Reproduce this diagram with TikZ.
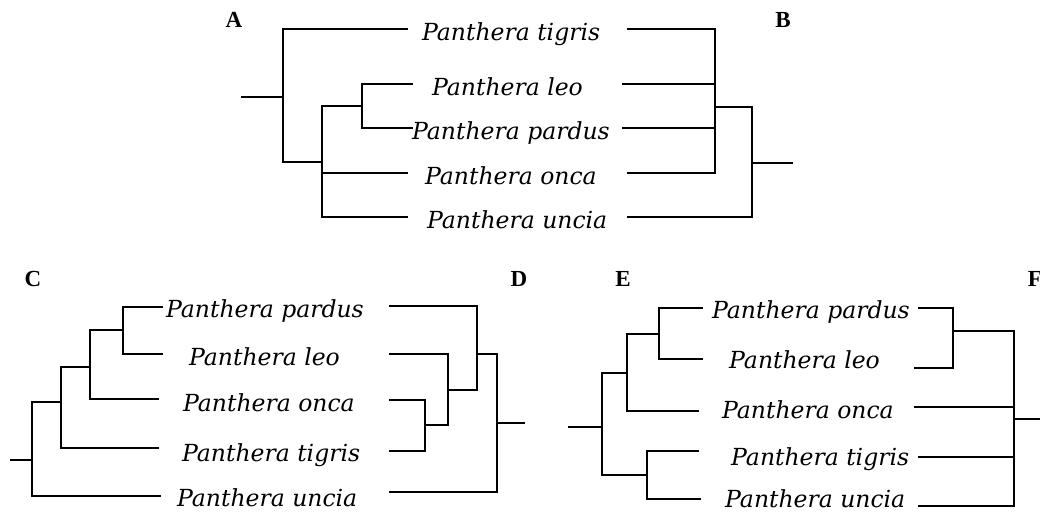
\documentclass[tikz,border=0pt]{standalone}
\usepackage{fontspec}
\setmainfont{DejaVu Serif}
\newfontfamily\lblfont{Liberation Serif}
\begin{document}
\begin{tikzpicture}[x=1pt,y=-1pt,
  br/.style={line width=2.2pt, line cap=rect},
  taxon/.style={anchor=base west, inner sep=0pt, font=\fontsize{23.5}{24}\selectfont\itshape},
  panel/.style={anchor=base, inner sep=0pt, font=\fontsize{23}{23}\selectfont\lblfont\bfseries}]
\useasboundingbox (0,0) rectangle (1040,511);
\clip (0,0) rectangle (1040,511);
% ---------- panel labels
\node[panel] (LA) at (234,28) {A};
\node[panel] (LB) at (783,28) {B};
\node[panel] (LC) at (33,286) {C};
\node[panel] (LD) at (519,286) {D};
\node[panel] (LE) at (623,286) {E};
\node[panel] (LF) at (1035,286) {F};
% ---------- texts (top)
\node[taxon] (tA1) at (422,41) {Panthera tigris};
\node[taxon] (tA2) at (432,95) {Panthera leo};
\node[taxon] (tA3) at (412,139) {Panthera pardus};
\node[taxon] (tA4) at (425,184) {Panthera onca};
\node[taxon] (tA5) at (427,228) {Panthera uncia};
% ---------- texts (C/D)
\node[taxon] (tC1) at (166,317) {Panthera pardus};
\node[taxon] (tC2) at (189,365) {Panthera leo};
\node[taxon] (tC3) at (183,411) {Panthera onca};
\node[taxon] (tC4) at (182,461) {Panthera tigris};
\node[taxon] (tC5) at (177,506) {Panthera uncia};
% ---------- texts (E/F)
\node[taxon] (tE1) at (712,318) {Panthera pardus};
\node[taxon] (tE2) at (729,368) {Panthera leo};
\node[taxon] (tE3) at (722,418) {Panthera onca};
\node[taxon] (tE4) at (731,465) {Panthera tigris};
\node[taxon] (tE5) at (725,507) {Panthera uncia};
% ================= A
\coordinate (aR) at (242,97);
\coordinate (a0) at (283,97);
\coordinate (a1) at (322,162);
\coordinate (a2) at (362,106);
\coordinate (aT) at (407,29);
\coordinate (aL) at (412,84);
\coordinate (aP) at (412,128);
\coordinate (aO) at (407,173);
\coordinate (aU) at (407,217);
\draw[br] (aR) -- (a0);
\draw[br] (a0) |- (aT);
\draw[br] (a0) |- (a1);
\draw[br] (a1) |- (a2);
\draw[br] (a1) |- (aO);
\draw[br] (a1) |- (aU);
\draw[br] (a2) |- (aL);
\draw[br] (a2) |- (aP);
% ================= B
\coordinate (bT) at (628,29);
\coordinate (bL) at (623,84);
\coordinate (bP) at (623,128);
\coordinate (bO) at (628,173);
\coordinate (bU) at (628,217);
\coordinate (b1) at (715,107);
\coordinate (b0) at (752,163);
\coordinate (bR) at (792,163);
\draw[br] (bT) -| (b1);
\draw[br] (bL) -| (b1);
\draw[br] (bP) -| (b1);
\draw[br] (bO) -| (b1);
\draw[br] (b1) -| (b0);
\draw[br] (bU) -| (b0);
\draw[br] (b0) -- (bR);
% ================= C
\coordinate (cR) at (11,460);
\coordinate (c0) at (32,460);
\coordinate (c1) at (61,402);
\coordinate (c2) at (90,367);
\coordinate (c3) at (123,330);
\coordinate (cP) at (162,307);
\coordinate (cL) at (162,354);
\coordinate (cO) at (158,399);
\coordinate (cT) at (158,448);
\coordinate (cU) at (160,496);
\draw[br] (cR) -- (c0);
\draw[br] (c0) |- (c1);
\draw[br] (c0) |- (cU);
\draw[br] (c1) |- (c2);
\draw[br] (c1) |- (cT);
\draw[br] (c2) |- (c3);
\draw[br] (c2) |- (cO);
\draw[br] (c3) |- (cP);
\draw[br] (c3) |- (cL);
% ================= D
\coordinate (dP) at (390,306);
\coordinate (dL) at (390,354);
\coordinate (dO) at (390,400);
\coordinate (dT) at (390,451);
\coordinate (dU) at (390,492);
\coordinate (d3) at (425,425);
\coordinate (d2) at (448,390);
\coordinate (d1) at (477,354);
\coordinate (d0) at (497,423);
\coordinate (dR) at (524,423);
\draw[br] (dO) -| (d3);
\draw[br] (dT) -| (d3);
\draw[br] (dL) -| (d2);
\draw[br] (d3) -| (d2);
\draw[br] (dP) -| (d1);
\draw[br] (d2) -| (d1);
\draw[br] (d1) -| (d0);
\draw[br] (dU) -| (d0);
\draw[br] (d0) -- (dR);
% ================= E
\coordinate (eR) at (569,427);
\coordinate (e0) at (602,427);
\coordinate (e1) at (627,373);
\coordinate (e2) at (659,334);
\coordinate (e4) at (647,475);
\coordinate (eP) at (702,308);
\coordinate (eL) at (702,359);
\coordinate (eO) at (698,411);
\coordinate (eT) at (698,451);
\coordinate (eU) at (700,499);
\draw[br] (eR) -- (e0);
\draw[br] (e0) |- (e1);
\draw[br] (e0) |- (e4);
\draw[br] (e1) |- (e2);
\draw[br] (e1) |- (eO);
\draw[br] (e2) |- (eP);
\draw[br] (e2) |- (eL);
\draw[br] (e4) |- (eT);
\draw[br] (e4) |- (eU);
% ================= F
\coordinate (fP) at (919,308);
\coordinate (fL) at (915,368);
\coordinate (fO) at (915,407);
\coordinate (fT) at (919,457);
\coordinate (fU) at (919,506);
\coordinate (f1) at (953,331);
\coordinate (f0) at (1014,419);
\coordinate (fR) at (1040,419);
\draw[br] (fP) -| (f1);
\draw[br] (fL) -| (f1);
\draw[br] (f1) -| (f0);
\draw[br] (fO) -| (f0);
\draw[br] (fT) -| (f0);
\draw[br] (fU) -| (f0);
\draw[br] (f0) -- (fR);
\end{tikzpicture}
\end{document}
